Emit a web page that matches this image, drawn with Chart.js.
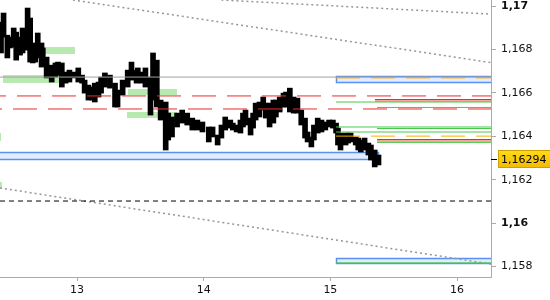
<!DOCTYPE html>
<html>
<head>
<meta charset="utf-8">
<script src="https://cdn.jsdelivr.net/npm/chart.js@4.4.1/dist/chart.umd.min.js"></script>
<style>
    html, body { margin: 0; padding: 0; background: #fff; }
    #canvas-container { width: 550px; height: 300px; }
</style>
</head>
<body>
<div id="canvas-container"><canvas id="canvas" width="550" height="300"></canvas></div>
<script>

// price bars (day of month, high, low)
var barDay = [12.40, 12.42, 12.45, 12.47, 12.50, 12.52, 12.53, 12.55, 12.57, 12.61,
              12.63, 12.65, 12.67, 12.69, 12.72, 12.73, 12.76, 12.80, 12.83, 12.85,
              12.88, 12.91, 12.94, 12.98, 13.01, 13.04, 13.06, 13.09, 13.12, 13.14,
              13.17, 13.19, 13.22, 13.26, 13.30, 13.32, 13.36, 13.40, 13.43, 13.47,
              13.48, 13.51, 13.54, 13.58, 13.60, 13.63, 13.66, 13.70, 13.72, 13.75,
              13.79, 13.83, 13.87, 13.91, 13.95, 13.99, 14.04, 14.07, 14.11, 14.14,
              14.17, 14.21, 14.23, 14.26, 14.29, 14.31, 14.33, 14.37, 14.39, 14.41,
              14.44, 14.47, 14.49, 14.52, 14.55, 14.57, 14.60, 14.63, 14.65, 14.68,
              14.71, 14.74, 14.77, 14.80, 14.82, 14.85, 14.87, 14.90, 14.93, 14.96,
              14.99, 15.02, 15.045, 15.06, 15.08, 15.12, 15.14, 15.16, 15.20, 15.22,
              15.24, 15.27, 15.30, 15.32, 15.35, 15.38];
var barHigh = [1.16926, 1.16968, 1.16866, 1.16857, 1.16899, 1.16880, 1.16853, 1.16857, 1.16899, 1.16991,
               1.16945, 1.16830, 1.16797, 1.16876, 1.16830, 1.16807, 1.16765, 1.16728, 1.16738, 1.16742,
               1.16738, 1.16696, 1.16705, 1.16696, 1.16715, 1.16682, 1.16659, 1.16636, 1.16627, 1.16645,
               1.16650, 1.16673, 1.16692, 1.16682, 1.16645, 1.16613, 1.16659, 1.16705, 1.16742, 1.16705,
               1.16715, 1.16696, 1.16715, 1.16673, 1.16784, 1.16751, 1.16567, 1.16558, 1.16507, 1.16489,
               1.16507, 1.16521, 1.16507, 1.16484, 1.16475, 1.16466, 1.16443, 1.16443, 1.16406, 1.16452,
               1.16489, 1.16475, 1.16461, 1.16452, 1.16475, 1.16507, 1.16521, 1.16484, 1.16507, 1.16553,
               1.16558, 1.16581, 1.16553, 1.16553, 1.16567, 1.16567, 1.16581, 1.16599, 1.16604, 1.16622,
               1.16581, 1.16576, 1.16521, 1.16484, 1.16420, 1.16397, 1.16452, 1.16484, 1.16475, 1.16466,
               1.16475, 1.16475, 1.16461, 1.16438, 1.16415, 1.16415, 1.16415, 1.16415, 1.16397, 1.16392,
               1.16383, 1.16392, 1.16369, 1.16360, 1.16337, 1.16314];
var barLow = [1.16784, 1.16857, 1.16761, 1.16807, 1.16811, 1.16751, 1.16807, 1.16774, 1.16784, 1.16797,
              1.16742, 1.16738, 1.16742, 1.16761, 1.16719, 1.16728, 1.16669, 1.16650, 1.16673, 1.16682,
              1.16627, 1.16645, 1.16650, 1.16669, 1.16650, 1.16645, 1.16599, 1.16567, 1.16567, 1.16558,
              1.16581, 1.16599, 1.16627, 1.16622, 1.16535, 1.16535, 1.16590, 1.16627, 1.16659, 1.16645,
              1.16650, 1.16645, 1.16627, 1.16498, 1.16567, 1.16535, 1.16475, 1.16337, 1.16383, 1.16397,
              1.16443, 1.16461, 1.16452, 1.16429, 1.16429, 1.16420, 1.16374, 1.16397, 1.16360, 1.16392,
              1.16429, 1.16438, 1.16429, 1.16420, 1.16415, 1.16443, 1.16452, 1.16406, 1.16438, 1.16475,
              1.16489, 1.16521, 1.16484, 1.16443, 1.16461, 1.16489, 1.16512, 1.16535, 1.16535, 1.16512,
              1.16507, 1.16507, 1.16452, 1.16392, 1.16374, 1.16351, 1.16383, 1.16415, 1.16420, 1.16429,
              1.16443, 1.16438, 1.16415, 1.16360, 1.16337, 1.16360, 1.16369, 1.16374, 1.16360, 1.16337,
              1.16328, 1.16337, 1.16314, 1.16291, 1.16259, 1.16268];
var lastPrice = 1.16294;

// axes
var xRange = [12.392, 16.268];
var yRange = [1.15752, 1.17028];
var xTicks = [13, 14, 15, 16];
var yTicks = [1.158, 1.16, 1.162, 1.164, 1.166, 1.168, 1.17];

// horizontal levels [from day, price]
var grayLevels = [[12.392, 1.16673]];
var redLevels = [[12.392, 1.16586], [12.392, 1.16526]];
var blackLevels = [[12.392, 1.16102]];
var orangeLevels = [[15.045, 1.16669], [15.045, 1.16401]];
var greenLevels = [[15.045, 1.16558], [15.368, 1.16533], [15.045, 1.16443], [15.368, 1.16436],
                   [15.045, 1.16420], [15.368, 1.16372], [15.045, 1.15817]];

// trend lines [[day, price], [day, price]]
var trendLines = [[[12.968, 1.17028], [16.268, 1.16740]],
                  [[14.14, 1.17028], [16.268, 1.16963]],
                  [[12.392, 1.16162], [16.268, 1.15812]]];

// zones [from day, to day, top price, bottom price]
var greenZones = [[12.605, 12.984, 1.16811, 1.16779], [12.416, 12.929, 1.16682, 1.16645],
                  [13.403, 13.789, 1.16618, 1.16590], [13.395, 13.789, 1.16512, 1.16484],
                  [12.30, 12.40, 1.16415, 1.16378], [12.30, 12.408, 1.16190, 1.16157]];
var blueZones = [[12.30, 15.376, 1.16328, 1.16296], [15.045, 16.3, 1.16678, 1.16650],
                 [15.045, 16.3, 1.15840, 1.15817]];
var redZones = [[15.353, 16.3, 1.16572, 1.16558], [15.368, 16.3, 1.16388, 1.16374]];


function levelLine(level, color, dash, dashOffset, width){
    return {
        type: 'line',
        data: [{x: level[0], y: level[1]}, {x: xRange[1], y: level[1]}],
        borderColor: color,
        borderWidth: width || 1,
        borderDash: dash || [],
        borderDashOffset: dashOffset || 0,
        pointRadius: 0,
        fill: false,
        order: 0
    };
}

function isRound(v){
    return Math.abs(v * 100 - Math.round(v * 100)) < 1e-9;
}

/**
 * Zones under the bars
 */
var zonePlugin = {
    id: 'zones',
    beforeDatasetsDraw: function(chart){
        var ctx = chart.ctx, area = chart.chartArea,
            xs = chart.scales.x, ys = chart.scales.y;

        ctx.save();
        ctx.beginPath();
        ctx.rect(area.left, area.top, area.right - area.left, area.bottom - area.top);
        ctx.clip();

        function box(z){
            var x1 = Math.round(xs.getPixelForValue(z[0])),
                x2 = Math.round(xs.getPixelForValue(z[1])),
                y1 = Math.round(ys.getPixelForValue(z[2])),
                y2 = Math.round(ys.getPixelForValue(z[3]));
            return {x: x1, y: y1, w: x2 - x1, h: y2 - y1};
        }

        greenZones.forEach(function(z){
            var b = box(z);
            ctx.fillStyle = 'rgb(183,233,176)';
            ctx.fillRect(b.x, b.y, b.w, b.h);
        });

        blueZones.forEach(function(z){
            var b = box(z);
            ctx.fillStyle = 'rgb(226,236,255)';
            ctx.fillRect(b.x, b.y, b.w, b.h);
            ctx.strokeStyle = 'rgb(90,145,240)';
            ctx.lineWidth = 1.5;
            ctx.strokeRect(b.x + 0.5, b.y + 0.5, b.w, b.h);
        });

        redZones.forEach(function(z){
            var b = box(z);
            ctx.fillStyle = 'rgb(250,165,155)';
            ctx.fillRect(b.x, b.y, b.w, b.h);
            ctx.fillStyle = 'rgb(225,45,45)';
            ctx.fillRect(b.x, b.y, b.w, 1);
        });

        ctx.restore();
    }
};

/**
 * Last price tag on the right axis
 */
var pricePlugin = {
    id: 'lastprice',
    afterDraw: function(chart){
        var ctx = chart.ctx, area = chart.chartArea, ys = chart.scales.y;
        var y = Math.round(ys.getPixelForValue(lastPrice));

        ctx.save();
        ctx.fillStyle = '#000';
        ctx.fillRect(area.right, y, 6, 1);

        var grad = ctx.createLinearGradient(0, y - 9, 0, y + 9);
        grad.addColorStop(0, '#ffdc1a');
        grad.addColorStop(1, '#f2b900');
        ctx.fillStyle = grad;
        ctx.fillRect(498, y - 9, 52, 18);
        ctx.strokeStyle = '#c9a200';
        ctx.lineWidth = 1;
        ctx.strokeRect(498.5, y - 8.5, 52, 17);

        ctx.fillStyle = '#000';
        ctx.font = '11px "DejaVu Sans"';
        ctx.textBaseline = 'middle';
        ctx.fillText(String(lastPrice).replace('.', ','), 501, y + 1);
        ctx.restore();
    }
};


var datasets = [];

datasets.push({
    type: 'bar',
    data: barDay.map(function(d, i){ return {x: d, y: [barLow[i], barHigh[i]]}; }),
    backgroundColor: '#000',
    borderWidth: 0,
    barThickness: 5,
    grouped: false,
    order: 10
});

grayLevels.forEach(function(l){ datasets.push(levelLine(l, 'rgb(160,160,160)')); });
redLevels.forEach(function(l, i){ datasets.push(levelLine(l, 'rgb(232,45,45)', [24, 11], i == 0 ? 18 : 22)); });
blackLevels.forEach(function(l){ datasets.push(levelLine(l, '#000', [5, 4], 0)); });
orangeLevels.forEach(function(l){ datasets.push(levelLine(l, 'rgb(255,172,0)', [24, 11], 0)); });
greenLevels.forEach(function(l){ datasets.push(levelLine(l, 'rgb(75,200,75)')); });

trendLines.forEach(function(t){
    datasets.push({
        type: 'line',
        data: [{x: t[0][0], y: t[0][1]}, {x: t[1][0], y: t[1][1]}],
        borderColor: 'rgb(150,150,150)',
        borderWidth: 1.5,
        borderDash: [2, 3],
        pointRadius: 0,
        fill: false,
        order: 0
    });
});

var canvasCxt = document.getElementById('canvas').getContext('2d');
var priceChart = new Chart(canvasCxt, {
    type: 'line',
    data: { datasets: datasets },
    plugins: [zonePlugin, pricePlugin],
    options: {
        responsive: false,
        animation: false,
        devicePixelRatio: 1,
        layout: { padding: 0 },
        plugins: {
            legend: { display: false },
            tooltip: { enabled: false }
        },
        scales: {
            x: {
                type: 'linear',
                position: 'bottom',
                min: xRange[0],
                max: xRange[1],
                offset: false,
                afterBuildTicks: function(scale){
                    scale.ticks = xTicks.map(function(v){ return {value: v}; });
                },
                afterFit: function(scale){
                    scale.height = 23;
                    scale.paddingLeft = 0;
                    scale.paddingRight = 0;
                },
                grid: { drawOnChartArea: false, offset: false, tickLength: 4, color: '#aaa' },
                border: { color: '#aaa', width: 1 },
                ticks: {
                    maxRotation: 0,
                    padding: 3,
                    color: '#111',
                    font: { family: 'DejaVu Sans', size: 11 },
                    callback: function(v){ return String(v); }
                }
            },
            y: {
                type: 'linear',
                position: 'right',
                min: yRange[0],
                max: yRange[1],
                afterBuildTicks: function(scale){
                    scale.ticks = yTicks.map(function(v){ return {value: v}; });
                },
                afterFit: function(scale){
                    scale.width = 59;
                    scale.paddingTop = 0;
                    scale.paddingBottom = 0;
                },
                grid: { drawOnChartArea: false, tickLength: 5, color: '#aaa' },
                border: { color: '#aaa', width: 1 },
                ticks: {
                    padding: 5,
                    color: '#111',
                    font: function(c){
                        var bold = c.tick && isRound(c.tick.value);
                        return { family: 'DejaVu Sans', size: 11, weight: bold ? 'bold' : 'normal' };
                    },
                    callback: function(v){ return String(+v.toFixed(3)).replace('.', ','); }
                }
            }
        }
    }
});
</script>
</body>
</html>
